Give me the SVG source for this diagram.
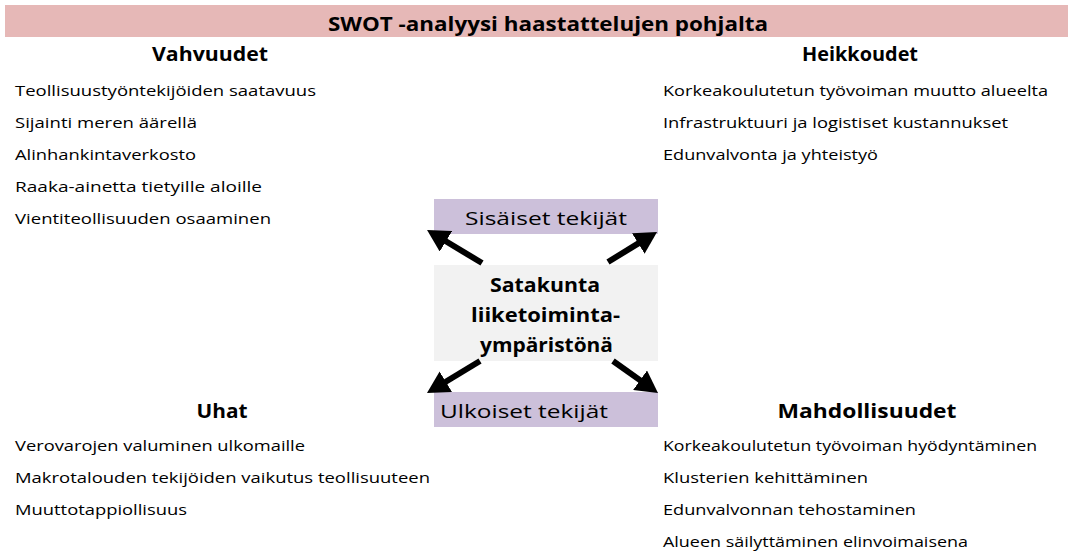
<svg xmlns="http://www.w3.org/2000/svg" width="1068" height="554" viewBox="0 0 1068 554">
<style>
text{font-family:"Open Sans","Liberation Sans",sans-serif;fill:#000}
.t{font-size:14px}
.h{font-size:19px;font-weight:bold}
.b{font-size:18.5px}
.c{font-size:19px;font-weight:bold}
.arr{stroke:#000;stroke-width:6;fill:none}
</style>
<defs>
<marker id="ah" markerUnits="userSpaceOnUse" viewBox="0 0 22 24" refX="2" refY="12" markerWidth="22" markerHeight="24" orient="auto">
<path d="M0,0 L22,12 L0,24 z" fill="#000"/>
</marker>
</defs>
<rect width="1068" height="554" fill="#fff"/>
<g id="title">
<rect x="5" y="5" width="1063" height="32" fill="#e6b8b7"/>
<text x="328" y="30.5" font-size="20" font-weight="bold" textLength="440" lengthAdjust="spacingAndGlyphs">SWOT -analyysi haastattelujen pohjalta</text>
</g>
<g id="vahvuudet">
<text class="h" x="210" y="61" text-anchor="middle" textLength="116" lengthAdjust="spacingAndGlyphs">Vahvuudet</text>
<text class="t" x="15" y="96" textLength="301" lengthAdjust="spacingAndGlyphs">Teollisuustyöntekijöiden saatavuus</text>
<text class="t" x="15" y="128" textLength="182" lengthAdjust="spacingAndGlyphs">Sijainti meren äärellä</text>
<text class="t" x="15" y="160" textLength="181" lengthAdjust="spacingAndGlyphs">Alinhankintaverkosto</text>
<text class="t" x="15" y="192" textLength="247" lengthAdjust="spacingAndGlyphs">Raaka-ainetta tietyille aloille</text>
<text class="t" x="15" y="224" textLength="256" lengthAdjust="spacingAndGlyphs">Vientiteollisuuden osaaminen</text>
</g>
<g id="heikkoudet">
<text class="h" x="860" y="61" text-anchor="middle" textLength="116" lengthAdjust="spacingAndGlyphs">Heikkoudet</text>
<text class="t" x="663" y="96" textLength="385" lengthAdjust="spacingAndGlyphs">Korkeakoulutetun työvoiman muutto alueelta</text>
<text class="t" x="663" y="128" textLength="345" lengthAdjust="spacingAndGlyphs">Infrastruktuuri ja logistiset kustannukset</text>
<text class="t" x="663" y="160" textLength="215" lengthAdjust="spacingAndGlyphs">Edunvalvonta ja yhteistyö</text>
</g>
<g id="uhat">
<text class="h" x="222" y="418" text-anchor="middle" textLength="51" lengthAdjust="spacingAndGlyphs">Uhat</text>
<text class="t" x="15" y="451" textLength="290" lengthAdjust="spacingAndGlyphs">Verovarojen valuminen ulkomaille</text>
<text class="t" x="15" y="483" textLength="415" lengthAdjust="spacingAndGlyphs">Makrotalouden tekijöiden vaikutus teollisuuteen</text>
<text class="t" x="15" y="515" textLength="172" lengthAdjust="spacingAndGlyphs">Muuttotappiollisuus</text>
</g>
<g id="mahdollisuudet">
<text class="h" x="867" y="418" text-anchor="middle" textLength="179" lengthAdjust="spacingAndGlyphs">Mahdollisuudet</text>
<text class="t" x="663" y="451" textLength="374" lengthAdjust="spacingAndGlyphs">Korkeakoulutetun työvoiman hyödyntäminen</text>
<text class="t" x="663" y="483" textLength="205" lengthAdjust="spacingAndGlyphs">Klusterien kehittäminen</text>
<text class="t" x="663" y="515" textLength="253" lengthAdjust="spacingAndGlyphs">Edunvalvonnan tehostaminen</text>
<text class="t" x="663" y="547" textLength="305" lengthAdjust="spacingAndGlyphs">Alueen säilyttäminen elinvoimaisena</text>
</g>
<g id="sisaiset">
<rect x="434" y="199" width="224" height="35" fill="#ccc0da"/>
<text class="b" x="465" y="225" textLength="162" lengthAdjust="spacingAndGlyphs">Sisäiset tekijät</text>
</g>
<g id="satakunta">
<rect x="434" y="265" width="224" height="96" fill="#f2f2f2"/>
<text class="c" x="545" y="292" text-anchor="middle" textLength="110" lengthAdjust="spacingAndGlyphs">Satakunta</text>
<text class="c" x="545.5" y="322" text-anchor="middle" textLength="149" lengthAdjust="spacingAndGlyphs">liiketoiminta-</text>
<text class="c" x="546.5" y="352" text-anchor="middle" textLength="133" lengthAdjust="spacingAndGlyphs">ympäristönä</text>
</g>
<g id="ulkoiset">
<rect x="434" y="392" width="224" height="35" fill="#ccc0da"/>
<text class="b" x="440" y="418" textLength="168" lengthAdjust="spacingAndGlyphs">Ulkoiset tekijät</text>
</g>
<g id="connectors">
<line class="arr" x1="482" y1="263" x2="444.2" y2="240.3" marker-end="url(#ah)"/>
<line class="arr" x1="608" y1="262" x2="640" y2="242.4" marker-end="url(#ah)"/>
<line class="arr" x1="480" y1="361" x2="444.1" y2="382.7" marker-end="url(#ah)"/>
<line class="arr" x1="613" y1="361" x2="641.7" y2="381.4" marker-end="url(#ah)"/>
</g>
</svg>
